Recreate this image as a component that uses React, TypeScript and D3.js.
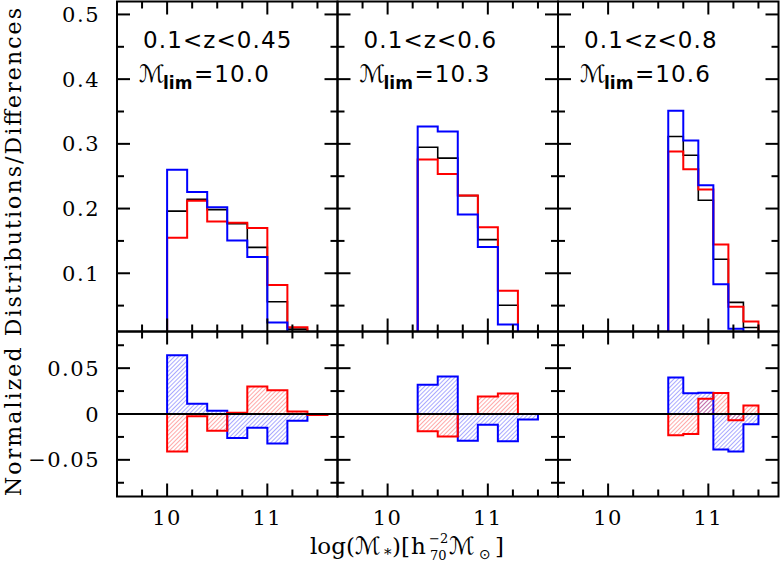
import React from "react";
import * as d3 from "d3";

// ---------- data ----------
const panelLabels = ["0.1<z<0.45", "0.1<z<0.6", "0.1<z<0.8"];
const massLimits = ["10.0", "10.3", "10.6"];
const binStart = [10.0, 10.3, 10.6];
const binWidth = [0.2, 0.2, 0.15];

const blackP1 = [0.196, 0.2144, 0.1984, 0.1767, 0.14, 0.056, 0.0137, 0.003];
const redP1 = [0.155, 0.212, 0.18, 0.178, 0.17, 0.082, 0.0165, 0.002];
const blueP1 = [0.26, 0.2255, 0.202, 0.1505, 0.125, 0.0238, 0.0063, 0.003];

const blackP2 = [0.2947, 0.278, 0.22, 0.152, 0.0505, 0.008];
const redP2 = [0.276, 0.2535, 0.22, 0.1712, 0.0728, 0.008];
const blueP2 = [0.3267, 0.319, 0.1907, 0.1404, 0.0208, 0.002];

const blackP3 = [0.3113, 0.2823, 0.2129, 0.1217, 0.055, 0.0162];
const redP3 = [0.288, 0.2606, 0.2295, 0.1446, 0.0483, 0.0255];
const blueP3 = [0.351, 0.305, 0.236, 0.083, 0.0142, 0.005];

const blackSeries = [blackP1, blackP2, blackP3];
const redSeries = [redP1, redP2, redP3];
const blueSeries = [blueP1, blueP2, blueP3];

const topMajorTicks = [0.1, 0.2, 0.3, 0.4, 0.5];
const topMinorTicks = [0.05, 0.15, 0.25, 0.35, 0.45];
const topTickLabels = ["0.1", "0.2", "0.3", "0.4", "0.5"];
const botMajorTicks = [-0.05, 0, 0.05];
const botMinorTicks = [-0.075, -0.025, 0.025, 0.075];
const botTickLabels = ["\u22120.05", "0", "0.05"];
const xMajorTicks = [10, 11];
const xMinorTicks = [9.75, 10.25, 10.5, 10.75, 11.25, 11.5];
const xTickLabels = ["10", "11"];

const xDomain: [number, number] = [9.5, 11.7];
const topDomain: [number, number] = [0.01, 0.52];
const botDomain: [number, number] = [-0.09, 0.09];

// ---------- layout ----------
const W = 781;
const H = 566;
const X0 = 117;
const PW = 220.5;
const TOP0 = 1.5;
const MID = 331.5;
const BOT = 496.5;
const MAJ = 13;
const MIN = 7;

const serif = "'DejaVu Serif', serif";
const sans = "'DejaVu Sans', sans-serif";

function stepPath(
  x: d3.ScaleLinear<number, number>,
  y: d3.ScaleLinear<number, number>,
  start: number,
  w: number,
  vals: number[],
  close: boolean
) {
  let p = `M${x(start)},${y(0)}`;
  vals.forEach((v, i) => {
    p += `V${y(v)}H${x(start + (i + 1) * w)}`;
  });
  p += `V${y(0)}`;
  if (close) p += "Z";
  return p;
}

function Ticks({ x, y, xMaj, xMin, yMaj, yMin, x0, x1, y0, y1 }: any) {
  const lines: any[] = [];
  xMaj.forEach((t: number, i: number) => {
    const px = x(t);
    lines.push(<line key={`xb${i}`} x1={px} x2={px} y1={y1} y2={y1 - MAJ} />);
    lines.push(<line key={`xt${i}`} x1={px} x2={px} y1={y0} y2={y0 + MAJ} />);
  });
  xMin.forEach((t: number, i: number) => {
    const px = x(t);
    lines.push(<line key={`xmb${i}`} x1={px} x2={px} y1={y1} y2={y1 - MIN} />);
    lines.push(<line key={`xmt${i}`} x1={px} x2={px} y1={y0} y2={y0 + MIN} />);
  });
  yMaj.forEach((t: number, i: number) => {
    const py = y(t);
    lines.push(<line key={`yl${i}`} x1={x0} x2={x0 + MAJ} y1={py} y2={py} />);
    lines.push(<line key={`yr${i}`} x1={x1} x2={x1 - MAJ} y1={py} y2={py} />);
  });
  yMin.forEach((t: number, i: number) => {
    const py = y(t);
    lines.push(<line key={`yml${i}`} x1={x0} x2={x0 + MIN} y1={py} y2={py} />);
    lines.push(<line key={`ymr${i}`} x1={x1} x2={x1 - MIN} y1={py} y2={py} />);
  });
  return <g stroke="#000" strokeWidth={2}>{lines}</g>;
}

function Panel({ idx }: { idx: number }) {
  const left = X0 + idx * PW;
  const right = left + PW;
  const x = d3.scaleLinear().domain(xDomain).range([left, right]);
  const yT = d3.scaleLinear().domain(topDomain).range([MID, TOP0]);
  const yB = d3.scaleLinear().domain(botDomain).range([BOT, MID]);
  const start = binStart[idx];
  const w = binWidth[idx];
  const blk = blackSeries[idx];
  const red = redSeries[idx];
  const blu = blueSeries[idx];
  const redDiff = red.map((v, i) => v - blk[i]);
  const bluDiff = blu.map((v, i) => v - blk[i]);
  const clipT = `clipT${idx}`;
  const clipB = `clipB${idx}`;
  return (
    <g>
      <defs>
        <clipPath id={clipT}>
          <rect x={left} y={TOP0} width={PW} height={MID - TOP0} />
        </clipPath>
        <clipPath id={clipB}>
          <rect x={left} y={MID} width={PW} height={BOT - MID} />
        </clipPath>
      </defs>
      <g clipPath={`url(#${clipT})`} fill="none" strokeLinejoin="miter">
        <path d={stepPath(x, yT, start, w, blk, false)} stroke="#000" strokeWidth={1.6} />
        <path d={stepPath(x, yT, start, w, red, false)} stroke="#ff0000" strokeWidth={2} />
        <path d={stepPath(x, yT, start, w, blu, false)} stroke="#0000ff" strokeWidth={2} />
      </g>
      <g clipPath={`url(#${clipB})`}>
        <path d={stepPath(x, yB, start, w, bluDiff, true)} fill="url(#hatchBlue)" stroke="#0000ff" strokeWidth={2} />
        <path d={stepPath(x, yB, start, w, redDiff, true)} fill="url(#hatchRed)" stroke="#ff0000" strokeWidth={2} />
        <line x1={left} x2={right} y1={yB(0)} y2={yB(0)} stroke="#000" strokeWidth={2} />
      </g>
      <Ticks x={x} y={yT} xMaj={xMajorTicks} xMin={xMinorTicks} yMaj={topMajorTicks} yMin={topMinorTicks} x0={left} x1={right} y0={TOP0} y1={MID} />
      <Ticks x={x} y={yB} xMaj={xMajorTicks} xMin={xMinorTicks} yMaj={botMajorTicks} yMin={botMinorTicks} x0={left} x1={right} y0={MID} y1={BOT} />
      <rect x={left} y={TOP0} width={PW} height={MID - TOP0} fill="none" stroke="#000" strokeWidth={2} />
      <rect x={left} y={MID} width={PW} height={BOT - MID} fill="none" stroke="#000" strokeWidth={2} />
      <text x={left + 26} y={48} fontFamily={sans} fontSize={23} letterSpacing={1.1} fill="#000">
        {panelLabels[idx]}
      </text>
      <text y={82} fontFamily={sans} fill="#000">
        <tspan x={left + 22} fontSize={24}>{"\u2133"}</tspan>
        <tspan x={left + 46} y={89} fontSize={17} fontWeight="bold">lim</tspan>
        <tspan x={left + 77} y={82} fontSize={23} letterSpacing={1.1}>{"=" + massLimits[idx]}</tspan>
      </text>
      {xMajorTicks.map((t, i) => (
        <text key={i} x={x(t)} y={525} textAnchor="middle" fontFamily={serif} fontSize={21} letterSpacing={1.5} fill="#000">
          {xTickLabels[i]}
        </text>
      ))}
    </g>
  );
}

export default function App() {
  const yT = d3.scaleLinear().domain(topDomain).range([MID, TOP0]);
  const yB = d3.scaleLinear().domain(botDomain).range([BOT, MID]);
  return (
    <svg width={W} height={H} style={{ position: "absolute", left: 0, top: 0, background: "#fff" }}>
      <defs>
        <pattern id="hatchBlue" patternUnits="userSpaceOnUse" width={3} height={3} patternTransform="rotate(45)">
          <line x1={0} y1={0} x2={0} y2={3} stroke="#0000ff" strokeWidth={0.9} strokeOpacity={0.75} />
        </pattern>
        <pattern id="hatchRed" patternUnits="userSpaceOnUse" width={3} height={3} patternTransform="rotate(45)">
          <line x1={0} y1={0} x2={0} y2={3} stroke="#ff0000" strokeWidth={0.9} strokeOpacity={0.75} />
        </pattern>
      </defs>
      <rect x={0} y={0} width={W} height={H} fill="#fff" />
      {[0, 1, 2].map((i) => (
        <Panel key={i} idx={i} />
      ))}
      {topMajorTicks.map((t, i) => (
        <text key={`tl${i}`} x={100} y={yT(t)} dy="0.36em" textAnchor="end" fontFamily={serif} fontSize={21} letterSpacing={1.5} fill="#000">
          {topTickLabels[i]}
        </text>
      ))}
      {botMajorTicks.map((t, i) => (
        <text key={`bl${i}`} x={100} y={yB(t)} dy="0.36em" textAnchor="end" fontFamily={serif} fontSize={21} letterSpacing={1.5} fill="#000">
          {botTickLabels[i]}
        </text>
      ))}
      <text
        transform={`translate(21,252) rotate(-90)`}
        textAnchor="middle"
        fontFamily={serif}
        fontSize={22}
        textLength={488}
        lengthAdjust="spacing"
        fill="#000"
      >
        Normalized Distributions/Differences
      </text>
      {/* x-axis title: log(M*)[h70^-2 Msun] */}
      <g fill="#000">
        <text x={310} y={554} fontFamily={serif} fontSize={23}>log(</text>
        <text x={355} y={554} fontFamily={sans} fontSize={24}>{"\u2133"}</text>
        <text x={384} y={559} fontFamily={serif} fontSize={15}>*</text>
        <text x={392} y={554} fontFamily={serif} fontSize={23}>)[</text>
        <text x={411} y={554} fontFamily={serif} fontSize={23}>h</text>
        <text x={429} y={543} fontFamily={serif} fontSize={13}>{"\u22122"}</text>
        <text x={430} y={560} fontFamily={serif} fontSize={13}>70</text>
        <text x={449} y={554} fontFamily={sans} fontSize={24}>{"\u2133"}</text>
        <text x={479} y={559} fontFamily={sans} fontSize={14}>{"\u2299"}</text>
        <text x={495} y={554} fontFamily={serif} fontSize={23}>]</text>
      </g>
    </svg>
  );
}
